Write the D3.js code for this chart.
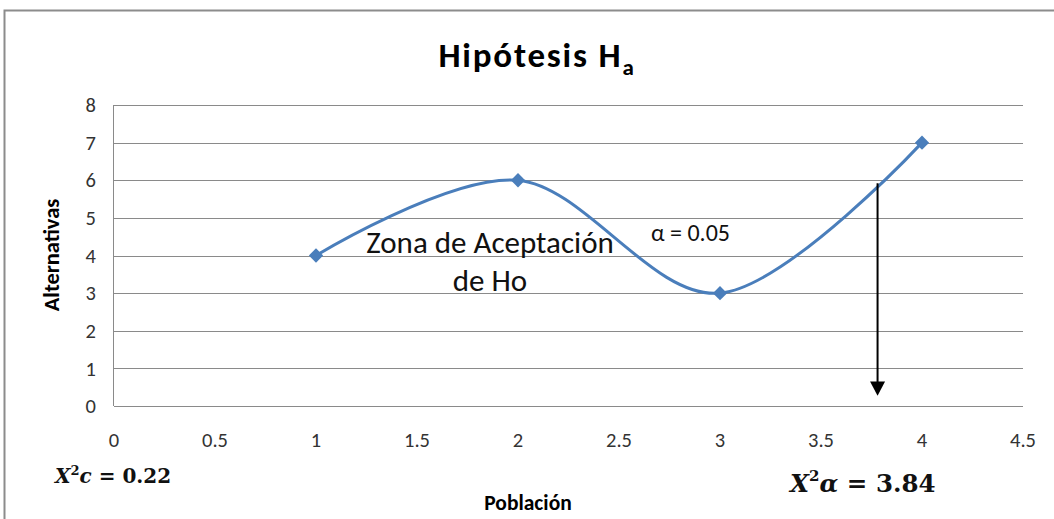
<!DOCTYPE html>
<html>
<head>
<meta charset="utf-8">
<script src="https://cdn.jsdelivr.net/npm/d3@7"></script>
<style>
  body { margin: 0; background: #fff; }
  svg { display: block; }
</style>
</head>
<body>
<svg></svg>
<script>
const width = 1054;
const height = 519;

// data
const poblacion = [1, 2, 3, 4];
const alternativas = [4, 6, 3, 7];
const xTicks = [0, 0.5, 1, 1.5, 2, 2.5, 3, 3.5, 4, 4.5];
const yTicks = [0, 1, 2, 3, 4, 5, 6, 7, 8];
const chiCritico = 3.78; // where the arrow drops
const chiCalc = 0.22;
const chiTabla = 3.84;

const margin = { top: 105, right: 31, bottom: 113, left: 114 };

const svg = d3.select("svg").attr("width", width).attr("height", height);

// chart border
svg.append("rect")
  .attr("x", 4.5).attr("y", 10.5)
  .attr("width", width + 10).attr("height", height + 10)
  .attr("fill", "none").attr("stroke", "#8c8c8c").attr("stroke-width", 2);

const x = d3.scaleLinear().domain([0, 4.5]).range([margin.left, width - margin.right]);
const y = d3.scaleLinear().domain([0, 8]).range([height - margin.bottom, margin.top]);

const font = "Carlito, Lato, 'Open Sans', sans-serif";

// gridlines
svg.append("g")
  .selectAll("line")
  .data(yTicks)
  .join("line")
  .attr("x1", x(0)).attr("x2", x(4.5))
  .attr("y1", (d) => Math.round(y(d)) + 0.5)
  .attr("y2", (d) => Math.round(y(d)) + 0.5)
  .attr("stroke", "#8a8a8a").attr("stroke-width", 1);

// y axis line
svg.append("line")
  .attr("x1", x(0) - 0.5).attr("x2", x(0) - 0.5)
  .attr("y1", y(8)).attr("y2", y(0))
  .attr("stroke", "#8a8a8a");

// y tick labels
svg.append("g")
  .selectAll("text")
  .data(yTicks)
  .join("text")
  .attr("x", x(0) - 18)
  .attr("y", (d) => y(d))
  .attr("dy", "0.35em")
  .attr("text-anchor", "end")
  .attr("font-family", font).attr("font-size", 20.5).attr("fill", "#333")
  .text((d) => d);

// x tick labels
svg.append("g")
  .selectAll("text")
  .data(xTicks)
  .join("text")
  .attr("x", (d) => x(d))
  .attr("y", 447)
  .attr("text-anchor", "middle")
  .attr("font-family", font).attr("font-size", 20.5).attr("fill", "#333")
  .text((d) => d);

// title
const title = svg.append("text")
  .attr("x", 537).attr("y", 67)
  .attr("text-anchor", "middle")
  .attr("font-family", font).attr("font-size", 35).attr("font-weight", "bold")
  .attr("letter-spacing", 1.8)
  .attr("fill", "#000");
title.append("tspan").text("Hipótesis H");
title.append("tspan").attr("font-size", 23).attr("dy", 8).text("a");

// axis titles
svg.append("text")
  .attr("transform", `translate(59,${255}) rotate(-90)`)
  .attr("text-anchor", "middle")
  .attr("font-family", font).attr("font-size", 22.5).attr("font-weight", "bold")
  .text("Alternativas");

svg.append("text")
  .attr("x", 528).attr("y", 510)
  .attr("text-anchor", "middle")
  .attr("font-family", font).attr("font-size", 21.5).attr("font-weight", "bold")
  .text("Población");

// smoothed series
const pts = poblacion.map((p, i) => [p, alternativas[i]]);
const line = d3.line()
  .x((d) => x(d[0]))
  .y((d) => y(d[1]))
  .curve(d3.curveCardinal.tension(0));

svg.append("path")
  .datum(pts)
  .attr("d", line)
  .attr("fill", "none")
  .attr("stroke", "#4a7ebb")
  .attr("stroke-width", 3);

svg.append("g")
  .selectAll("path")
  .data(pts)
  .join("path")
  .attr("transform", (d) => `translate(${x(d[0])},${y(d[1])})`)
  .attr("d", d3.symbol(d3.symbolDiamond2, 130)())
  .attr("fill", "#4a7ebb");

// annotations
svg.append("text")
  .attr("x", 490).attr("y", 253)
  .attr("text-anchor", "middle")
  .attr("font-family", font).attr("font-size", 31).attr("fill", "#111")
  .text("Zona de Aceptación");
svg.append("text")
  .attr("x", 490).attr("y", 291)
  .attr("text-anchor", "middle")
  .attr("font-family", font).attr("font-size", 31).attr("fill", "#111")
  .text("de Ho");

svg.append("text")
  .attr("x", 651).attr("y", 241)
  .attr("font-family", font).attr("font-size", 24).attr("fill", "#111")
  .text("α = 0.05");

// arrow
svg.append("line")
  .attr("x1", x(chiCritico)).attr("x2", x(chiCritico))
  .attr("y1", y(6) + 3).attr("y2", y(0.6))
  .attr("stroke", "#000").attr("stroke-width", 2);
svg.append("path")
  .attr("d", `M${x(chiCritico) - 7.5},${y(0.65)} L${x(chiCritico) + 7.5},${y(0.65)} L${x(chiCritico)},${y(0.27)} Z`)
  .attr("fill", "#000");

// chi-square labels
const serif = "'DejaVu Serif', 'Liberation Serif', serif";
const t1 = svg.append("text")
  .attr("x", 55).attr("y", 483)
  .attr("font-family", serif).attr("font-size", 20).attr("font-weight", "bold")
  .attr("fill", "#111");
t1.append("tspan").attr("font-style", "italic").text("X");
t1.append("tspan").attr("font-size", 13).attr("dy", -8).text("2");
t1.append("tspan").attr("font-style", "italic").attr("dy", 8).text("c");
t1.append("tspan").text(` = ${chiCalc.toFixed(2)}`);

const t2 = svg.append("text")
  .attr("x", 790).attr("y", 492)
  .attr("font-family", serif).attr("font-size", 24.5).attr("font-weight", "bold")
  .attr("fill", "#111");
t2.append("tspan").attr("font-style", "italic").text("X");
t2.append("tspan").attr("font-size", 15).attr("dy", -11).text("2");
t2.append("tspan").attr("font-style", "italic").attr("dy", 11).text("α");
t2.append("tspan").text(` = ${chiTabla.toFixed(2)}`);
</script>
</body>
</html>
